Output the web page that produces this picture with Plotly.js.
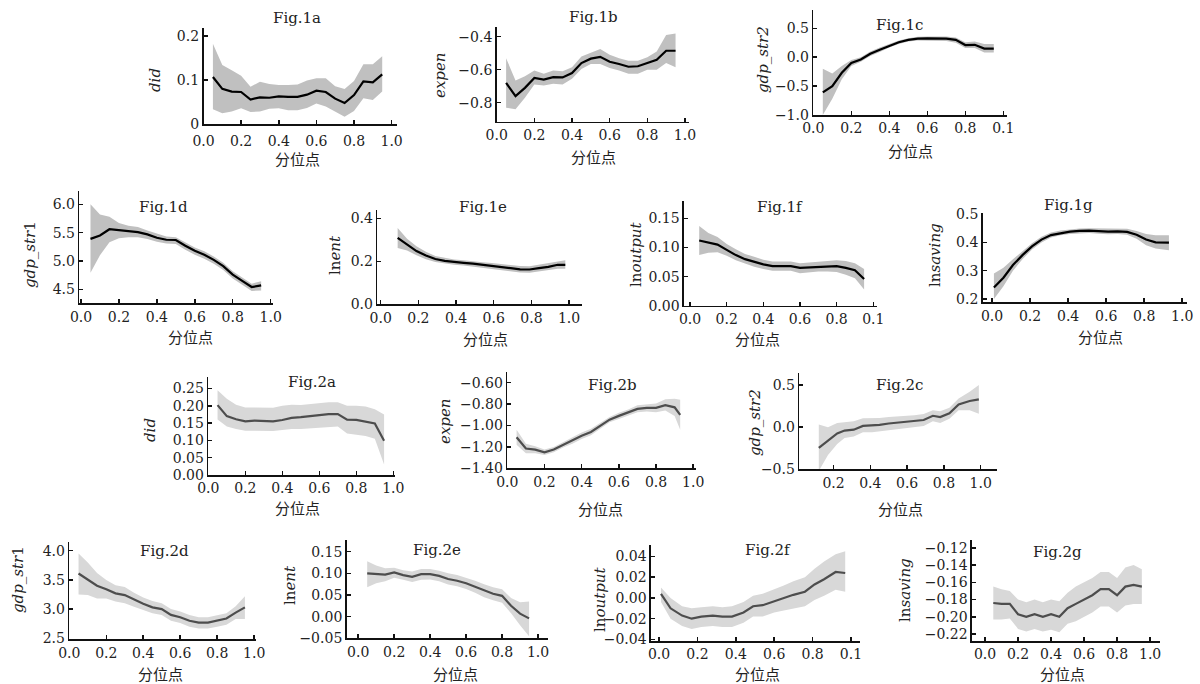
<!DOCTYPE html>
<html><head><meta charset="utf-8">
<script src="https://cdn.plot.ly/plotly-3.0.1.min.js"></script>
<style>html,body{margin:0;padding:0;background:#fff}#chart{width:1200px;height:684px}</style>
</head><body><div id="chart"></div>
<script>
// ---------- data ----------
const q = [0.05,0.1,0.15,0.2,0.25,0.3,0.35,0.4,0.45,0.5,0.55,0.6,0.65,0.7,0.75,0.8,0.85,0.9,0.95];
const xTicks = [0,0.2,0.4,0.6,0.8,1.0];
const xTickText = ["0.0","0.2","0.4","0.6","0.8","1.0"];
const xTickTextTypo = ["0.0","0.2","0.4","0.6","0.8","0.1"];
const xTitle = "分位点";

// Fig.1a did
const f1a_mean = [0.107,0.080,0.074,0.073,0.056,0.061,0.060,0.063,0.062,0.062,0.067,0.076,0.073,0.058,0.048,0.066,0.097,0.095,0.113];
const f1a_hi   = [0.182,0.134,0.122,0.110,0.085,0.096,0.091,0.089,0.089,0.090,0.099,0.104,0.104,0.086,0.080,0.098,0.136,0.136,0.154];
const f1a_lo   = [0.034,0.025,0.029,0.036,0.028,0.029,0.035,0.036,0.032,0.032,0.037,0.047,0.040,0.028,0.017,0.030,0.059,0.055,0.074];
// Fig.1b expen
const f1b_mean = [-0.68,-0.76,-0.71,-0.65,-0.66,-0.645,-0.647,-0.62,-0.56,-0.533,-0.522,-0.552,-0.565,-0.582,-0.579,-0.56,-0.54,-0.485,-0.485];
const f1b_hi   = [-0.53,-0.665,-0.64,-0.605,-0.625,-0.605,-0.61,-0.585,-0.52,-0.495,-0.475,-0.51,-0.53,-0.545,-0.545,-0.525,-0.49,-0.39,-0.38];
const f1b_lo   = [-0.83,-0.84,-0.77,-0.69,-0.695,-0.685,-0.69,-0.655,-0.595,-0.565,-0.565,-0.59,-0.605,-0.625,-0.625,-0.6,-0.6,-0.56,-0.585];
// Fig.1c gdp_str2
const f1c_mean = [-0.61,-0.5,-0.27,-0.1,-0.04,0.06,0.13,0.2,0.26,0.3,0.32,0.325,0.325,0.32,0.3,0.21,0.215,0.15,0.15];
const f1c_hi   = [-0.2,-0.28,-0.15,-0.05,0.0,0.1,0.17,0.23,0.29,0.33,0.355,0.36,0.36,0.36,0.34,0.26,0.27,0.23,0.23];
const f1c_lo   = [-1.0,-0.72,-0.38,-0.15,-0.08,0.02,0.09,0.17,0.23,0.27,0.29,0.29,0.29,0.28,0.25,0.16,0.16,0.08,0.08];
// Fig.1d gdp_str1
const f1d_mean = [5.39,5.45,5.56,5.54,5.52,5.51,5.47,5.41,5.375,5.37,5.27,5.18,5.11,5.02,4.91,4.76,4.65,4.54,4.57];
const f1d_hi   = [6.0,5.82,5.78,5.67,5.62,5.6,5.54,5.48,5.43,5.42,5.33,5.24,5.17,5.08,4.97,4.82,4.71,4.6,4.64];
const f1d_lo   = [4.79,5.1,5.33,5.4,5.42,5.42,5.39,5.34,5.31,5.3,5.2,5.11,5.04,4.95,4.84,4.69,4.58,4.47,4.48];
// Fig.1e lnent
const f1e_x    = [0.09,0.14,0.19,0.24,0.29,0.34,0.39,0.44,0.49,0.54,0.59,0.64,0.69,0.74,0.79,0.84,0.89,0.94,0.98];
const f1e_mean = [0.309,0.277,0.248,0.227,0.211,0.202,0.196,0.193,0.189,0.183,0.179,0.174,0.168,0.163,0.162,0.168,0.174,0.184,0.184];
const f1e_hi   = [0.355,0.305,0.27,0.245,0.225,0.215,0.208,0.205,0.202,0.196,0.192,0.187,0.182,0.178,0.177,0.184,0.19,0.2,0.205];
const f1e_lo   = [0.262,0.25,0.228,0.21,0.197,0.189,0.184,0.181,0.176,0.17,0.166,0.161,0.154,0.148,0.147,0.153,0.158,0.166,0.165];
// Fig.1f lnoutput
const f1f_mean = [0.112,0.108,0.105,0.096,0.087,0.08,0.075,0.071,0.068,0.068,0.068,0.065,0.066,0.067,0.068,0.068,0.065,0.061,0.046];
const f1f_hi   = [0.137,0.125,0.118,0.106,0.097,0.089,0.084,0.079,0.076,0.076,0.076,0.073,0.074,0.076,0.077,0.078,0.077,0.073,0.063];
const f1f_lo   = [0.087,0.091,0.092,0.086,0.078,0.072,0.067,0.063,0.06,0.06,0.06,0.056,0.058,0.059,0.059,0.058,0.053,0.047,0.028];
// Fig.1g lnsaving
const f1g_x    = [0.01,0.06,0.11,0.16,0.21,0.26,0.31,0.36,0.41,0.46,0.51,0.56,0.61,0.66,0.71,0.76,0.81,0.86,0.93];
const f1g_mean = [0.24,0.275,0.32,0.355,0.386,0.41,0.426,0.433,0.438,0.441,0.442,0.44,0.438,0.439,0.437,0.427,0.41,0.4,0.399];
const f1g_hi   = [0.29,0.31,0.34,0.37,0.397,0.42,0.435,0.442,0.446,0.449,0.45,0.449,0.448,0.449,0.448,0.44,0.43,0.425,0.425];
const f1g_lo   = [0.2,0.245,0.3,0.34,0.375,0.4,0.417,0.425,0.43,0.432,0.433,0.431,0.429,0.43,0.427,0.413,0.39,0.378,0.372];
// Fig.2a did
const f2a_mean = [0.202,0.17,0.161,0.155,0.157,0.157,0.155,0.159,0.165,0.167,0.17,0.171,0.176,0.176,0.16,0.159,0.154,0.149,0.099];
const f2a_hi   = [0.245,0.22,0.203,0.195,0.195,0.195,0.194,0.2,0.203,0.202,0.205,0.208,0.21,0.21,0.2,0.2,0.198,0.19,0.175];
const f2a_lo   = [0.16,0.14,0.133,0.128,0.128,0.127,0.127,0.13,0.133,0.133,0.135,0.137,0.14,0.14,0.12,0.117,0.113,0.105,0.03];
// Fig.2b expen
const f2b_x    = [0.05,0.1,0.15,0.2,0.25,0.3,0.35,0.4,0.45,0.5,0.55,0.6,0.65,0.7,0.75,0.8,0.85,0.9,0.93];
const f2b_mean = [-1.11,-1.215,-1.225,-1.25,-1.225,-1.18,-1.14,-1.095,-1.06,-1.0,-0.945,-0.91,-0.88,-0.845,-0.835,-0.835,-0.81,-0.83,-0.9];
const f2b_hi   = [-1.04,-1.17,-1.195,-1.225,-1.2,-1.155,-1.11,-1.065,-1.03,-0.975,-0.92,-0.88,-0.85,-0.81,-0.8,-0.795,-0.755,-0.75,-0.76];
const f2b_lo   = [-1.18,-1.26,-1.26,-1.275,-1.25,-1.205,-1.17,-1.125,-1.09,-1.03,-0.97,-0.94,-0.91,-0.875,-0.87,-0.875,-0.86,-0.91,-1.04];
// Fig.2c gdp_str2
const f2c_x    = [0.12,0.17,0.22,0.26,0.31,0.36,0.41,0.45,0.5,0.55,0.6,0.64,0.69,0.74,0.78,0.83,0.88,0.94,0.99];
const f2c_mean = [-0.245,-0.16,-0.075,-0.04,-0.03,0.015,0.02,0.028,0.043,0.053,0.062,0.07,0.085,0.135,0.12,0.165,0.27,0.31,0.33];
const f2c_hi   = [0.03,0.0,0.05,0.06,0.07,0.105,0.105,0.11,0.12,0.125,0.13,0.14,0.155,0.2,0.19,0.23,0.34,0.42,0.5];
const f2c_lo   = [-0.52,-0.33,-0.2,-0.13,-0.11,-0.06,-0.06,-0.05,-0.035,-0.025,-0.015,-0.005,0.015,0.07,0.05,0.1,0.2,0.2,0.16];
// Fig.2d gdp_str1
const f2d_mean = [3.61,3.51,3.4,3.34,3.27,3.24,3.16,3.09,3.03,3.0,2.9,2.86,2.8,2.77,2.77,2.8,2.84,2.94,3.03];
const f2d_hi   = [3.95,3.8,3.62,3.5,3.41,3.38,3.28,3.2,3.14,3.1,3.0,2.96,2.9,2.86,2.86,2.89,2.93,3.05,3.22];
const f2d_lo   = [3.25,3.24,3.18,3.18,3.13,3.1,3.04,2.98,2.93,2.9,2.8,2.76,2.7,2.67,2.67,2.7,2.73,2.83,2.83];
// Fig.2e lnent
const f2e_mean = [0.1,0.098,0.097,0.102,0.096,0.092,0.098,0.098,0.094,0.087,0.083,0.077,0.069,0.06,0.053,0.048,0.025,0.007,-0.004];
const f2e_hi   = [0.128,0.118,0.112,0.113,0.107,0.104,0.11,0.11,0.106,0.1,0.096,0.09,0.083,0.075,0.068,0.063,0.043,0.033,0.035];
const f2e_lo   = [0.068,0.077,0.082,0.09,0.085,0.08,0.085,0.086,0.082,0.074,0.07,0.064,0.055,0.045,0.038,0.032,0.008,-0.02,-0.045];
// Fig.2f lnoutput
const f2f_x    = [0.01,0.06,0.12,0.17,0.22,0.28,0.33,0.38,0.44,0.49,0.54,0.6,0.65,0.7,0.76,0.81,0.86,0.92,0.97];
const f2f_mean = [0.004,-0.01,-0.017,-0.02,-0.018,-0.017,-0.018,-0.018,-0.014,-0.008,-0.007,-0.003,0.0,0.003,0.006,0.013,0.018,0.025,0.024];
const f2f_hi   = [0.01,0.0,-0.008,-0.01,-0.009,-0.008,-0.009,-0.008,-0.004,0.002,0.004,0.008,0.012,0.016,0.02,0.028,0.035,0.042,0.045];
const f2f_lo   = [-0.004,-0.02,-0.027,-0.03,-0.028,-0.027,-0.028,-0.028,-0.024,-0.018,-0.018,-0.014,-0.012,-0.01,-0.008,-0.002,0.002,0.008,0.006];
// Fig.2g lnsaving
const f2g_mean = [-0.184,-0.185,-0.185,-0.197,-0.2,-0.197,-0.2,-0.197,-0.2,-0.19,-0.185,-0.18,-0.175,-0.168,-0.168,-0.175,-0.165,-0.163,-0.165];
const f2g_hi   = [-0.165,-0.168,-0.17,-0.18,-0.183,-0.18,-0.183,-0.18,-0.182,-0.172,-0.165,-0.16,-0.155,-0.148,-0.148,-0.155,-0.143,-0.14,-0.145];
const f2g_lo   = [-0.203,-0.203,-0.202,-0.214,-0.217,-0.214,-0.217,-0.215,-0.218,-0.208,-0.205,-0.2,-0.195,-0.188,-0.188,-0.195,-0.187,-0.185,-0.185];

// ---------- layout of panels (pixel boxes, ranges, tick labels) ----------
const M = "\u2212";
const panels = [
 {t:"Fig.1a", yt:"<i>did</i>", x:q, m:f1a_mean, hi:f1a_hi, lo:f1a_lo, box:[203.5,396.7,28.3,124.3], xr:[0,1.027], yr:[0,0.217],
  yv:[0,0.1,0.2], ytx:["0","0.1","0.2"], xtx:xTickText, tp:[297,18], xtp:[297,158], ytp:[155,80], s:1, xso:3},
 {t:"Fig.1b", yt:"<i>expen</i>", x:q, m:f1b_mean, hi:f1b_hi, lo:f1b_lo, box:[496.7,689.3,27.3,121.7], xr:[0,1.023], yr:[-0.915,-0.343],
  yv:[-0.8,-0.6,-0.4], ytx:[M+"0.8",M+"0.6",M+"0.4"], xtx:xTickText, tp:[593,17], xtp:[593,157], ytp:[440,75], s:1},
 {t:"Fig.1c", yt:"<i>gdp_str2</i>", x:q, m:f1c_mean, hi:f1c_hi, lo:f1c_lo, box:[813.3,1006.7,10,115], xr:[0,1.018], yr:[-1.0,0.817],
  yv:[-1,-0.5,0,0.5], ytx:[M+"1.0",M+"0.5","0.0","0.5"], xtx:xTickTextTypo, tp:[900,25], xtp:[910,150], ytp:[763,60], s:1},
 {t:"Fig.1d", yt:"<i>gdp_str</i>1", x:q, m:f1d_mean, hi:f1d_hi, lo:f1d_lo, box:[79.3,273.3,191,303.3], xr:[-0.009,1.014], yr:[4.253,6.235],
  yv:[4.5,5,5.5,6], ytx:["4.5","5.0","5.5","6.0"], xtx:xTickText, tp:[163,207], xtp:[190,336], ytp:[30,255], s:1},
 {t:"Fig.1e", yt:"ln<i>ent</i>", x:f1e_x, m:f1e_mean, hi:f1e_hi, lo:f1e_lo, box:[377.3,581.7,210,304.3], xr:[-0.018,1.067], yr:[0,0.439],
  yv:[0,0.2,0.4], ytx:["0.0","0.2","0.4"], xtx:xTickText, tp:[483,207], xtp:[485,338], ytp:[335,255], s:1},
 {t:"Fig.1f", yt:"ln<i>output</i>", x:q, m:f1f_mean, hi:f1f_hi, lo:f1f_lo, box:[684,877.3,201,305.7], xr:[-0.033,1.022], yr:[0,0.18],
  yv:[0,0.05,0.1,0.15], ytx:["0.00","0.05","0.10","0.15"], xtx:xTickTextTypo, tp:[780,207], xtp:[757,338], ytp:[636,255], s:1},
 {t:"Fig.1g", yt:"ln<i>saving</i>", x:f1g_x, m:f1g_mean, hi:f1g_hi, lo:f1g_lo, box:[982.7,1187,213.3,302.3], xr:[-0.049,1.025], yr:[0.188,0.503],
  yv:[0.2,0.3,0.4,0.5], ytx:["0.2","0.3","0.4","0.5"], xtx:xTickText, tp:[1068,205], xtp:[1100,336], ytp:[935,255], s:1},
 {t:"Fig.2a", yt:"<i>did</i>", x:q, m:f2a_mean, hi:f2a_hi, lo:f2a_lo, box:[208.3,395,376.7,475], xr:[0,1.009], yr:[0,0.284],
  yv:[0,0.05,0.1,0.15,0.2,0.25], ytx:["0.00","0.05","0.10","0.15","0.20","0.25"], xtx:xTickText, tp:[312,382], xtp:[297,507], ytp:[150,430], s:2},
 {t:"Fig.2b", yt:"<i>expen</i>", x:f2b_x, m:f2b_mean, hi:f2b_hi, lo:f2b_lo, box:[507.3,696,371.7,468.3], xr:[0,1.015], yr:[-1.4,-0.497],
  yv:[-1.4,-1.2,-1.0,-0.8,-0.6], ytx:[M+"1.40",M+"1.20",M+"1.00",M+"0.80",M+"0.60"], xtx:xTickText, tp:[612,385], xtp:[600,508], ytp:[445,422], s:2},
 {t:"Fig.2c", yt:"<i>gdp_str2</i>", x:f2c_x, m:f2c_mean, hi:f2c_hi, lo:f2c_lo, box:[799.3,996.7,372.7,469.3], xr:[0.014,1.087], yr:[-0.5,0.646],
  yv:[-0.5,0,0.5], ytx:[M+"0.5","0.0","0.5"], xtx:xTickText, tp:[900,385], xtp:[900,508], ytp:[755,423], s:2},
 {t:"Fig.2d", yt:"<i>gdp_str</i>1", x:q, m:f2d_mean, hi:f2d_hi, lo:f2d_lo, box:[69.3,256,541.7,639.3], xr:[0,1.01], yr:[2.483,4.154],
  yv:[2.5,3,3.5,4], ytx:["2.5","3.0","3.5","4.0"], xtx:xTickText, tp:[164,551], xtp:[160,673], ytp:[18,580], s:2},
 {t:"Fig.2e", yt:"ln<i>ent</i>", x:q, m:f2e_mean, hi:f2e_hi, lo:f2e_lo, box:[346.7,548.3,540,638.3], xr:[-0.064,1.057], yr:[-0.05,0.177],
  yv:[-0.05,0,0.05,0.1,0.15], ytx:[M+"0.05","0.00","0.05","0.10","0.15"], xtx:xTickText, tp:[437,550], xtp:[455,673], ytp:[290,585], s:2},
 {t:"Fig.2f", yt:"ln<i>output</i>", x:f2f_x, m:f2f_mean, hi:f2f_hi, lo:f2f_lo, box:[651,860,545,641], xr:[-0.042,1.047], yr:[-0.0415,0.051],
  yv:[-0.04,-0.02,0,0.02,0.04], ytx:[M+"0.04",M+"0.02","0.00","0.02","0.04"], xtx:xTickTextTypo, tp:[768,550], xtp:[757,673], ytp:[600,600], s:2},
 {t:"Fig.2g", yt:"ln<i>saving</i>", x:q, m:f2g_mean, hi:f2g_hi, lo:f2g_lo, box:[972,1160,540,641], xr:[-0.079,1.06], yr:[-0.228,-0.111],
  yv:[-0.22,-0.2,-0.18,-0.16,-0.14,-0.12], ytx:[M+"0.22",M+"0.20",M+"0.18",M+"0.16",M+"0.14",M+"0.12"], xtx:xTickText, tp:[1057,552], xtp:[1062,673], ytp:[905,590], s:2}
];

const W = 1200, H = 684;
const SERIF = "DejaVu Serif, Liberation Serif, serif";
const CJK = "Noto Sans CJK SC, sans-serif";
const styles = {
  1: {line:"#000000", fill:"rgb(192,192,192)"},
  2: {line:"#4d4d4d", fill:"rgb(216,216,216)"}
};

const traces = [];
const layout = {
  width: W, height: H, margin:{l:0,r:0,t:0,b:0},
  paper_bgcolor:"#ffffff", plot_bgcolor:"rgba(0,0,0,0)",
  showlegend:false, annotations:[]
};

panels.forEach((p, i) => {
  const n = i + 1;
  const xa = n === 1 ? "x" : "x" + n;
  const ya = n === 1 ? "y" : "y" + n;
  const st = styles[p.s];
  traces.push({x:p.x, y:p.lo, xaxis:xa, yaxis:ya, mode:"lines", line:{width:0, color:st.fill}, hoverinfo:"skip"});
  traces.push({x:p.x, y:p.hi, xaxis:xa, yaxis:ya, mode:"lines", line:{width:0, color:st.fill}, fill:"tonexty", fillcolor:st.fill, hoverinfo:"skip"});
  traces.push({x:p.x, y:p.m, xaxis:xa, yaxis:ya, mode:"lines", line:{width:2.2, color:st.line}});
  const [x0, x1, y0, y1] = p.box;
  const axCommon = {
    showline:true, linecolor:"#111", linewidth:1.6, ticks:"inside", ticklen:4, tickwidth:1.5, tickcolor:"#111",
    showgrid:false, zeroline:false, fixedrange:true,
    tickfont:{family:SERIF, size:14, color:"#222"}
  };
  layout["xaxis" + (n === 1 ? "" : n)] = Object.assign({}, axCommon, {
    domain:[x0 / W, x1 / W], range:p.xr, anchor:ya,
    tickmode:"array", tickvals:xTicks, ticktext:p.xtx, ticklabelstandoff:p.xso || 0
  });
  layout["yaxis" + (n === 1 ? "" : n)] = Object.assign({}, axCommon, {
    domain:[1 - y1 / H, 1 - y0 / H], range:p.yr, anchor:xa,
    tickmode:"array", tickvals:p.yv, ticktext:p.ytx, ticklabelstandoff:0
  });
  const A = (text, pos, font, angle) => layout.annotations.push({
    text, x:pos[0] / W, y:1 - pos[1] / H, xref:"paper", yref:"paper",
    xanchor:"center", yanchor:"middle", showarrow:false, textangle:angle || 0, font
  });
  A(p.t, p.tp, {family:SERIF, size:15, color:"#222"});
  A(xTitle, p.xtp, {family:CJK, size:15, color:"#222"});
  A(p.yt, p.ytp, {family:SERIF, size:15, color:"#222"}, -90);
});

Plotly.newPlot("chart", traces, layout, {staticPlot:true});
</script>
</body></html>
